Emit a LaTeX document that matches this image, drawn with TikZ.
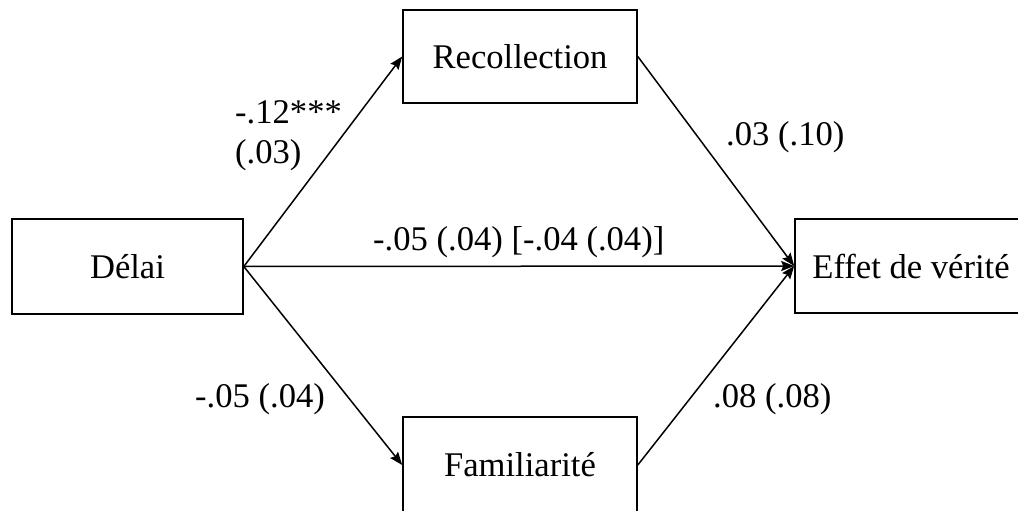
\documentclass[tikz,border=0pt]{standalone}
\usepackage{fontspec}
\setmainfont{Liberation Serif}
\usetikzlibrary{arrows.meta}
\begin{document}
\begin{tikzpicture}[x=1pt,y=-1pt,
  every node/.style={font=\fontsize{34.6}{40}\selectfont},
  var/.style={draw, line width=1.6pt, minimum width=#1, inner sep=0pt},
  path/.style={line width=1.5pt, -{Stealth[length=13pt,width=10pt,inset=2pt]}},
  coef/.style={inner sep=0pt, anchor=base west}]
\useasboundingbox (0,0) rectangle (1018,511);

% variables
\node[var=231pt, minimum height=95pt] (delai) at (127.5,266.5) {Délai};
\node[var=234pt, minimum height=93pt] (recol) at (520,56.5) {Recollection};
\node[var=234pt, minimum height=96pt] (famil) at (520,465) {Familiarité};
\node[var=232pt, minimum height=94pt] (verite) at (911,266) {Effet de vérité};

% paths
\draw[path] (delai.east) -- (recol.west);
\draw[path] (delai.east) -- (famil.west);
\draw[path] (delai.east) -- (verite.west);
\draw[path] (recol.east) -- (verite.west);
\draw[path] (famil.east) -- (verite.west);

% coefficients
\node[coef] (c1) at (235,123) {-.12***};
\node[coef] (c1se) at (235,163) {(.03)};
\node[coef] (c2) at (726,145) {.03 (.10)};
\node[coef] (c3) at (373,250) {-.05 (.04) [-.04 (.04)]};
\node[coef] (c4) at (195,407) {-.05 (.04)};
\node[coef] (c5) at (713,407) {.08 (.08)};
\end{tikzpicture}
\end{document}
